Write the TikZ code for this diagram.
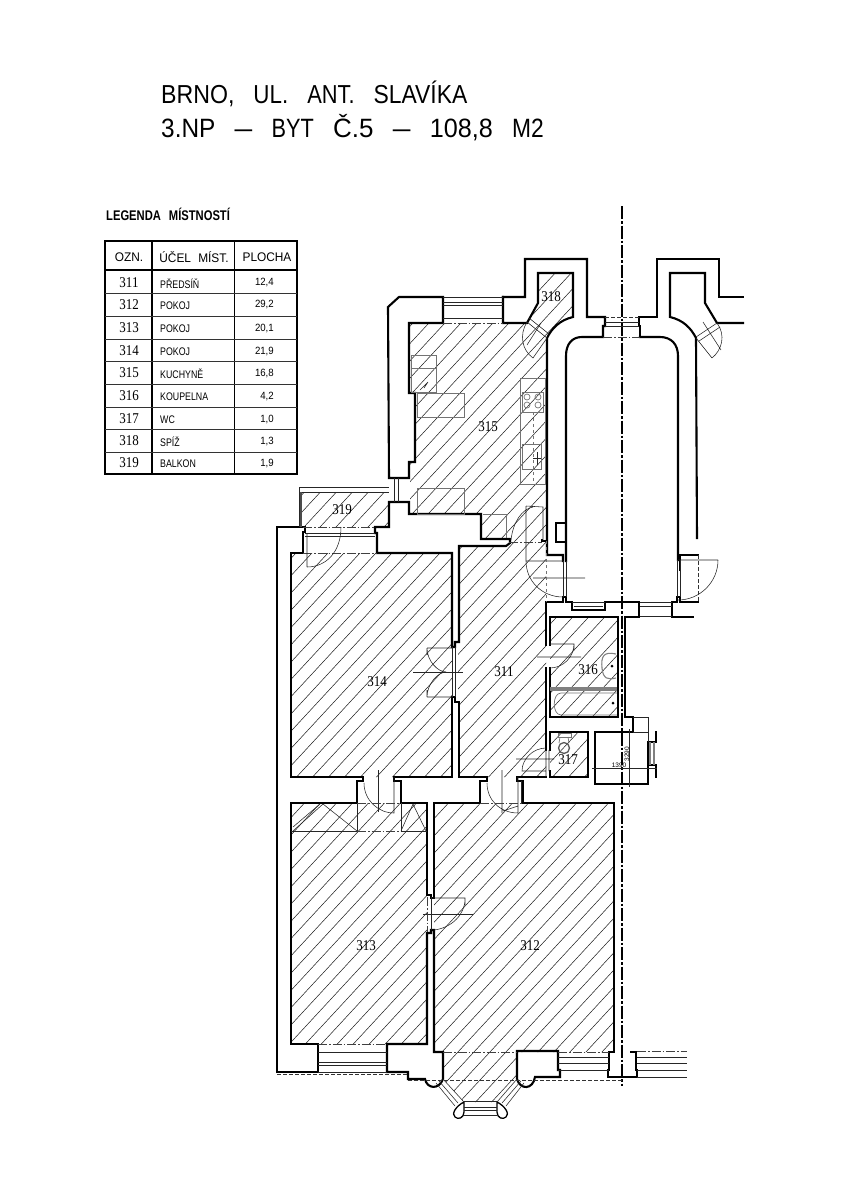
\documentclass[tikz,border=0pt]{standalone}
\usepackage{fontspec}
\usepackage{graphicx}
\newfontfamily\cadfont{Liberation Sans}
\newfontfamily\capfont[WordSpace=2.2]{Liberation Sans}
\newfontfamily\numfont{Liberation Serif}
\newcommand{\cadtext}[3]{\scalebox{#2}[1]{\fontsize{#1}{#1}\selectfont #3}}
\newcommand{\rnum}[1]{\scalebox{1}[1.15]{#1}}
\tikzset{
  wall/.style={line width=2.1pt,line join=miter,line cap=rect,black},
  midwall/.style={line width=1.3pt,black},
  thin/.style={line width=.55pt,black!85},
  hatchline/.style={line width=.5pt,black!90},
  furn/.style={line width=.7pt,black!55},
  fix/.style={line width=1.1pt,black!50},
  dd/.style={line width=.6pt,black!75,dash pattern=on 9pt off 2pt on 1.5pt off 2pt},
  dsh/.style={line width=.7pt,black!80,dash pattern=on 4pt off 2pt},
  axisline/.style={line width=1.7pt,black,dash pattern=on 13pt off 2pt on 2.5pt off 2pt},
  rlabel/.style={inner sep=0pt,font=\numfont\fontsize{13}{13}\selectfont},
  head/.style={inner sep=0pt,font=\capfont},
  cell/.style={inner sep=0pt,font=\capfont},
}
\begin{document}
\begin{tikzpicture}[x=1pt,y=-1pt]
\useasboundingbox (0,0) rectangle (848,1200);
% ---- hatching
\begin{scope}
\clip (409,323)--(527,323)--(547,338)--(547,541)--(509,541)--(509,539)--(481,539)--(481,514)--(410,514)--(410,462)--(415,462)--(415,393)--(409,393)--cycle
 (458,546)--(509,546)--(509,541)--(546,541)--(546,777)--(458,777)--cycle
 (291,553)--(452,553)--(452,777)--(291,777)--cycle
 (291,803)--(427,803)--(427,1044)--(291,1044)--cycle
 (434,803)--(613,803)--(613,1052)--(517,1052)--(517,1079)--(497,1102)--(464,1102)--(443,1079)--(443,1052)--(434,1052)--cycle
 (550,617)--(618,617)--(618,717)--(550,717)--cycle
 (550,732)--(588,732)--(588,777)--(550,777)--cycle
 (538,273)--(573,273)--(573,317)--(550,335)--(547,338)--(527,323)--(538,303)--cycle
 (301,492)--(389,492)--(389,527)--(301,527)--cycle;
\foreach \n in {0,...,90}{
  \pgfmathsetmacro{\ca}{440+16*\n-200/1.08}
  \pgfmathsetmacro{\cb}{440+16*\n-1130/1.08}
  \draw[hatchline] (\ca,200)--(\cb,1130);
}
\end{scope}
% ---- axis
\coordinate (axT) at (622,206); \coordinate (axB) at (622,1086);
\draw[axisline] (axT)--(axB);
% ---- kitchen and rooms : walls
\draw[wall] (389,478)--(388,307)--(399,297)--(443,297)--(443,323)--(409,323)--(409,393)--(415,393)--(415,462)--(409,462)--(409,478)--cycle;
\draw[wall] (503,297)--(503,323)--(527,323)--(538,303)--(538,273)--(573,273)--(573,317) .. controls (560,320) and (552,328) .. (547,338)--(547,555)--(563,555)--(563,561);
\draw[wall] (503,297)--(525,297)--(525,259)--(587,259)--(587,317)--(605,317)--(605,326)--(603,326)--(603,337)--(582,337) .. controls (572,337) and (566,344) .. (566,356)--(566,561);
\draw[wall] (556,542)--(566,542) (566,523)--(556,523)--(556,542);
\draw[wall] (640,337)--(640,326)--(639,326)--(639,317)--(657,317)--(657,259)--(719,259)--(719,297)--(743,297);
\draw[wall] (743,323)--(717,323)--(705,303)--(705,273)--(670,273)--(670,317) .. controls (683,320) and (691,328) .. (696,338)--(697,538);
\draw[wall] (640,337)--(660,337) .. controls (671,337) and (678,344) .. (678,356)--(678,560);
\draw[wall] (680,570)--(680,555)--(698,555);
% kitchen south
\draw[wall] (542,540)--(542,541)--(547,541);
\draw[wall] (452,647)--(452,553)--(377,553)--(377,533)--(375,533)--(375,527)--(389,527)--(389,502)--(409,502)--(409,514)--(481,514)--(481,539)--(510,539)--(510,543)--(506,546)--(459,546)--(459,642)--(455,642)--(455,647)--(452,647);
% room 314/313 left loop
\draw[wall] (291,553)--(303,553)--(303,532)--(305,532)--(305,527)--(277,527)--(277,1072)--(318,1072)--(318,1044)--(291,1044)--(291,803)--(357,803)--(357,781)--(363,781)--(363,777)--(291,777)--cycle;
\draw[wall] (401,803)--(401,781)--(394,781)--(394,777)--(452,777)--(452,697)--(455,697)--(455,702)--(459,702)--(459,777)--(487,777)--(487,781)--(480,781)--(480,803)--(434,803)--(434,898)--(431,898)--(431,895)--(427,895)--(427,803)--cycle;
\draw[wall] (427,933)--(427,1044)--(387,1044)--(387,1072)--(408,1072)--(408,1079)--(425,1079) .. controls (427,1089) and (439,1090) .. (443,1079)--(443,1052)--(434,1052)--(434,930)--(431,930)--(431,933)--cycle;
\draw[wall] (517,777)--(517,781)--(523,781)--(523,803)--(614,803)--(614,1052)--(609,1052)--(609,1070)--(608,1070)--(608,1077)--(637,1077)--(637,1070)--(636,1070)--(636,1052)--(631,1052);
\draw[wall] (517,777)--(546,777);
\draw[wall] (546,750)--(546,668);
\draw[wall] (546,645)--(546,602)--(563,602)--(563,597)--(566,597)--(566,602)--(572,602)--(572,610)--(605,610)--(605,602)--(639,602)--(639,617)--(625,617)--(625,717)--(633,717)--(633,732)--(595,732)--(595,784)--(648,784)--(648,742)--(656,742)--(656,732);
\draw[wall] (648,765)--(656,765)--(656,777) (656,765)--(656,765);
\draw[wall] (693,617)--(672,617)--(672,602)--(677,602)--(677,597)--(680,597)--(680,602)--(698,602);
% bathroom & wc
\draw[wall] (550,645)--(550,617)--(618,617)--(618,717)--(550,717)--(550,668);
\draw[wall] (550,750)--(550,732)--(588,732)--(588,777)--(550,777)--(550,771);
% bay
\draw[wall] (517,1051)--(558,1051)--(558,1070)--(560,1070)--(560,1077)--(535,1077) .. controls (533,1090) and (520,1090) .. (517,1079)--cycle;
\draw[midwall,line join=round] (464,1102) .. controls (456,1106) and (451,1114) .. (455,1117) .. controls (458,1120) and (464,1118) .. (464,1112)--cycle;
\draw[midwall,line join=round] (497,1102) .. controls (505,1106) and (510,1114) .. (506,1117) .. controls (503,1120) and (497,1118) .. (497,1112)--cycle;
\draw[thin] (443,1079)--(464,1102) (439,1081)--(458,1103) (436,1083)--(455,1106) (517,1079)--(497,1102) (521,1081)--(502,1103) (524,1083)--(506,1106);
\draw[thin] (464,1101)--(497,1101) (464,1107)--(497,1107) (464,1110)--(497,1110) (464,1115)--(497,1115);
% balcony 319
\draw[thin] (299,527)--(299,487)--(389,487) (299,492)--(389,492);
\draw[midwall,black!70] (301,527)--(301,492);
\draw[dd] (303,527)--(375,527);
% window and door lines
\draw[thin] (443,302)--(503,302) (443,305)--(503,305) (443,297)--(503,297) (443,318)--(503,318);
\draw[dd] (443,323)--(503,323);
\draw[dsh] (605,317)--(639,317);
\draw[thin] (605,322)--(639,322) (605,326)--(639,326);
\draw[dd] (603,337)--(640,337);
\draw[thin] (394,478)--(394,502) (398,478)--(398,502);
\draw[thin] (305,533)--(375,533) (305,536)--(375,536);
\draw[dd] (303,553)--(377,553);
\draw[thin] (307,533)--(307,567) (307,567) .. controls (326,567) and (341,552) .. (341,527);
% kitchen door to 311
\draw[thin] (526,506)--(526,561) (526,506)--(543,507)--(543,541) (511,540) .. controls (513,522) and (522,509) .. (533,507);
\draw[dd] (509,542)--(542,542);
% door 311 to shaft
\draw[thin] (526,561)--(563,561) (533,578)--(585,578) (526,561) .. controls (526,581) and (542,597) .. (563,597);
\draw[thin] (563,561)--(563,597) (566,561)--(566,597);
\draw[furn,dashed] (546,541)--(546,602);
% 318 door
\draw[thin] (527,322)--(547,338) (529,318)--(549,334);
\draw[thin] (527,322) .. controls (519,335) and (522,350) .. (533,358)--(547,338) (541,323)--(527,345);
% right-hand door
\draw[thin] (696,337)--(717,323) (699,341)--(720,327) (696,338)--(712,358) (717,323) .. controls (726,335) and (722,350) .. (712,358) (703,322)--(721,350);
% door 314-311 double
\draw[thin] (427,648)--(452,648) (427,648)--(427,655) (427,648) .. controls (427,661) and (438,672) .. (446,672);
\draw[thin] (427,697)--(452,697) (427,697)--(427,690) (427,697) .. controls (427,684) and (438,672) .. (446,672);
\draw[thin] (413,672)--(463,672) (452,647)--(452,697) (455,647)--(455,697);
% door 314-313
\draw[thin] (364,783) .. controls (364,800) and (378,813) .. (394,813)--(394,777);
\draw[thin] (378,770)--(378,812) (357,803)--(357,831) (401,803)--(401,831);
\draw[dd] (357,803)--(401,803);
\draw[dd] (357,831)--(401,831);
\draw[thin] (291,831)--(357,831) (401,831)--(427,831);
\draw[thin] (323,804)--(357,831) (323,804)--(293,831) (320,804)--(293,827) (413,804)--(401,831) (413,804)--(426,831);
% door 311-312
\draw[thin] (487,783) .. controls (487,800) and (500,813) .. (518,813)--(518,777) (502,770)--(502,813) (503,811)--(518,806);
\draw[thin] (521,781)--(521,803);
\draw[dd] (480,803)--(523,803);
% door 313-312
\draw[thin] (431,898)--(465,898)--(465,905) (465,899) .. controls (465,915) and (451,928) .. (434,930);
\draw[thin] (423,914)--(473,914) (431,897)--(431,930);
\draw[dd] (427,897)--(427,932);
% bathroom door
\draw[thin] (550,644)--(574,644)--(574,650) (574,644) .. controls (574,657) and (563,668) .. (550,668) (537,657)--(581,657);
% wc door
\draw[thin] (546,748) .. controls (533,748) and (522,759) .. (522,771)--(546,771) (516,759)--(554,759) (546,750)--(546,777) (549,750)--(549,771);
% lower windows
\draw[thin] (318,1052)--(387,1052) (318,1062)--(387,1062) (318,1065)--(387,1065) (318,1072)--(387,1072);
\draw[dd] (318,1044)--(387,1044);
\draw[dd] (443,1052)--(517,1052);
\draw[dd] (558,1052)--(609,1052);
\draw[thin] (558,1057)--(609,1057) (558,1063)--(609,1063) (558,1070)--(609,1070);
\draw[dd] (637,1051)--(687,1051);
\draw[thin] (637,1057)--(687,1057) (637,1063)--(687,1063) (637,1070)--(687,1070) (637,1077)--(687,1077);
\draw[dsh] (277,1074)--(408,1074) (408,1080)--(622,1080);
% shaft windows
\draw[thin] (572,602)--(605,602);
\draw[thin] (574,606)--(603,606);
\draw[thin] (640,602)--(672,602) (640,606)--(672,606) (640,616)--(672,616);
% right door shaft
\draw[thin] (678,560)--(718,560) (718,560) .. controls (718,582) and (700,600) .. (678,600);
\draw[thin] (680,560)--(680,597) (677,560)--(677,597);
\draw[dsh] (698,555)--(698,602);
% store room with dim lines
\draw[thin] (633,717)--(648,717)--(648,742) (633,732)--(648,732);
\draw[fix] (650,742)--(650,765) (654,742)--(654,765);
\draw[thin] (629,729)--(629,787) (592,768)--(657,768);
% kitchen furniture
\draw[furn] (520,378) rectangle (545,484);
\draw[furn] (522,392) rectangle (543,412);
\foreach \cx/\cy in {527/397,538/397,527/405,538/405} \draw[furn] (\cx,\cy) circle (3pt);
\draw[furn,dashed] (533,412)--(533,484);
\draw[furn] (522,444) rectangle (541,469);
\draw[thin] (533,458)--(541,458) (537,452)--(537,465);
\draw[furn] (417,393) rectangle (464,417);
\draw[furn] (417,488) rectangle (464,514);
\draw[furn] (411,355) rectangle (436,392) (411,368)--(436,368);
\draw[thin] (420,390)--(428,382)--(424,388);
\draw[furn] (483,514)--(506,514)--(506,538);
% bathroom fixtures
\draw[fix] (616,654) .. controls (603,651) and (601,657) .. (602,668) .. controls (603,679) and (608,680) .. (616,678);
\fill (612,666) circle (1.5pt);
\fill (613,703) circle (1.5pt);
\draw[fix] (550,688)--(617,688) (550,690)--(617,690);
\draw[furn] (617,693)--(561,693) .. controls (552,693) and (552,715) .. (561,715)--(617,715);
\draw[midwall,black!65] (564,748) circle (5.5pt);
\draw[furn] (558,733) rectangle (571,737);
\draw[furn] (560,737)--(559,743) (568,737)--(569,743);
% ---- title
\node[anchor=west,inner sep=0pt,font=\cadfont\fontsize{26}{26}\selectfont] (t1) at (161,94) {\spaceskip=19pt\relax\scalebox{.89}[1]{BRNO,} \scalebox{.86}[1]{UL.} \scalebox{.84}[1]{ANT.} \scalebox{.88}[1]{SLAVÍKA}};
\node[anchor=west,inner sep=0pt,font=\cadfont\fontsize{26.5}{26.5}\selectfont] (t2) at (161,128) {\spaceskip=19.3pt\relax\scalebox{.92}[1]{3.NP} \scalebox{1.2}[1]{–} \scalebox{.82}[1]{BYT} \scalebox{.98}[1]{Č.5} \scalebox{1.2}[1]{–} \scalebox{.95}[1]{108,8} \scalebox{.86}[1]{M2}};
\node[anchor=west,inner sep=0pt,font=\cadfont\bfseries\fontsize{14}{14}\selectfont] (legend) at (106,214) {\spaceskip=8pt\relax\scalebox{.8}[1]{LEGENDA} \scalebox{.8}[1]{MÍSTNOSTÍ}};
% ---- table
\draw[line width=1.6pt] (105,241) rectangle (297,474);
\draw[line width=1.6pt] (152,241)--(152,474);
\draw[line width=.8pt] (234,241)--(234,474);
\draw[line width=1.2pt] (105,270)--(297,270);
\foreach \yy in {293,316,339,361,384,407,429,452} \draw[line width=.8pt,black!80] (105,\yy)--(297,\yy);
\node[head] (hA) at (129,257) {\cadtext{12.5}{.95}{OZN.}};
\node[head] (hB) at (194,257) {\cadtext{12.5}{.95}{ÚČEL MÍST.}};
\node[head] (hC) at (267,257) {\cadtext{12.5}{.95}{PLOCHA}};
\foreach \yy/\a/\b/\c in {283/311/PŘEDSÍŇ/{12,4},305/312/POKOJ/{29,2},328/313/POKOJ/{20,1},351/314/POKOJ/{21,9},373/315/KUCHYNĚ/{16,8},396/316/KOUPELNA/{4,2},419/317/WC/{1,0},441/318/SPÍŽ/{1,3},463/319/BALKON/{1,9}}{
  \node[rlabel] at (129,\yy) {\rnum{\a}};
  \node[cell,anchor=west] at (160,\yy+1) {\cadtext{11}{.8}{\b}};
  \node[cell,anchor=east] at (274,\yy) {\cadtext{10.5}{.92}{\c}};
}
% ---- room labels
\node[rlabel] (r311) at (504,672) {\rnum{311}};
\node[rlabel] (r312) at (530,946) {\rnum{312}};
\node[rlabel] (r313) at (366,946) {\rnum{313}};
\node[rlabel] (r314) at (377,682) {\rnum{314}};
\node[rlabel] (r315) at (488,427) {\rnum{315}};
\node[rlabel] (r316) at (588,670) {\rnum{316}};
\node[rlabel] (r317) at (568,760) {\rnum{317}};
\node[rlabel] (r318) at (551,297) {\rnum{318}};
\node[rlabel] (r319) at (342,510) {\rnum{319}};
\node[inner sep=0pt,font=\capfont\fontsize{6.5}{6.5}\selectfont] (dimA) at (619,765) {1390};
\node[inner sep=0pt,rotate=90,font=\capfont\fontsize{6.5}{6.5}\selectfont] (dimB) at (627,754) {3290};
\end{tikzpicture}
\end{document}
